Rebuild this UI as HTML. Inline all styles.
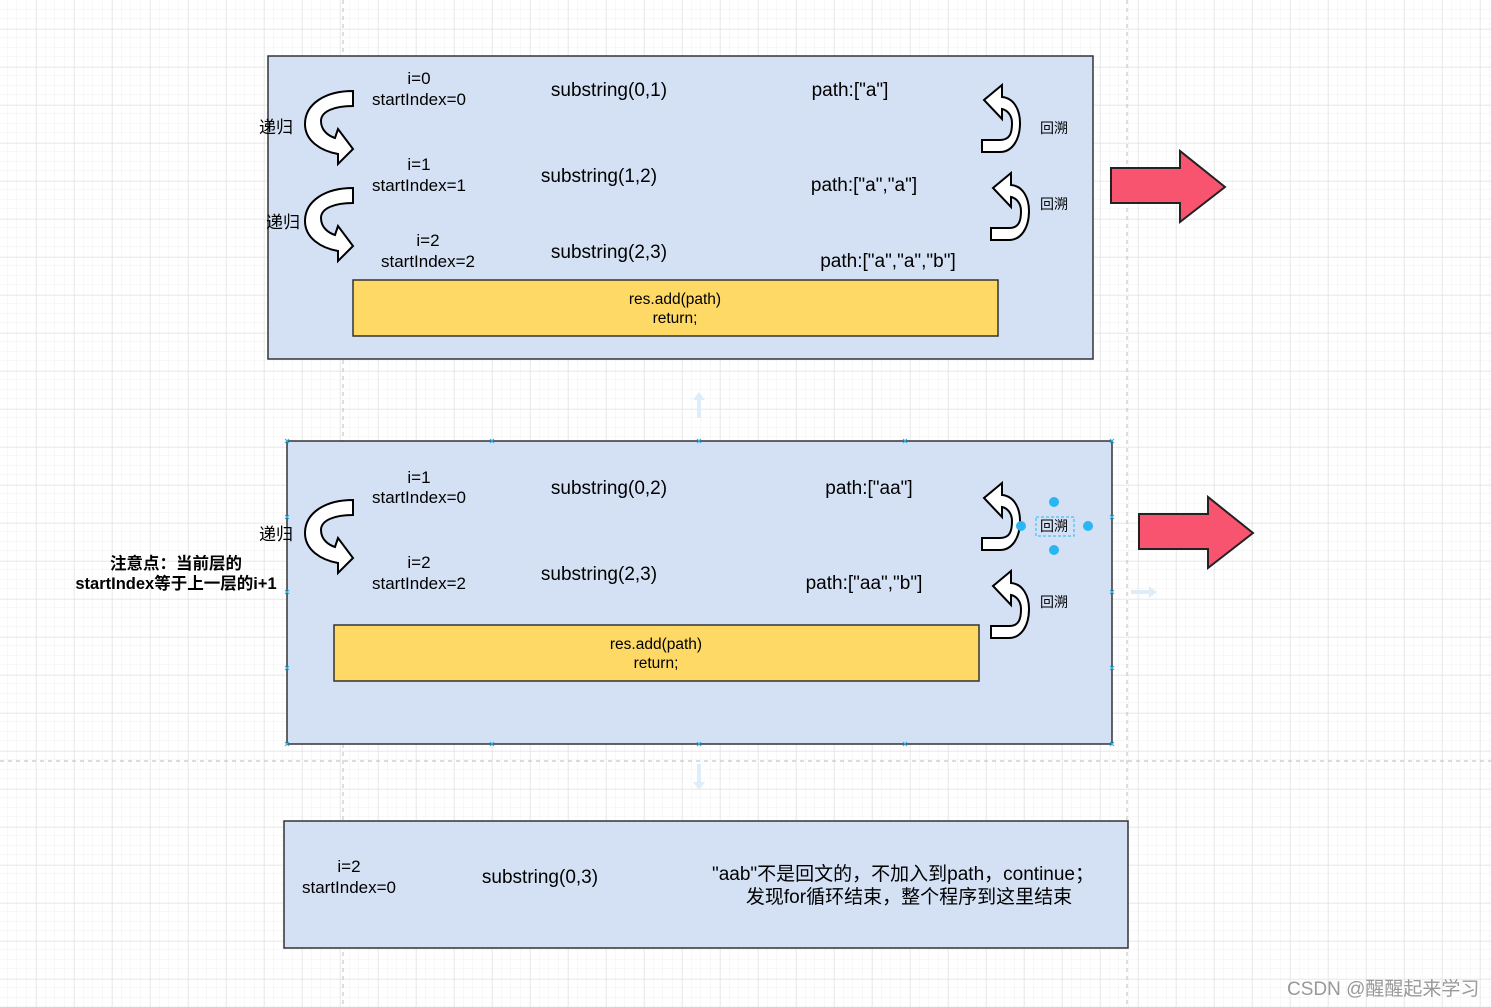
<!DOCTYPE html>
<html><head><meta charset="utf-8"><style>
html,body{margin:0;padding:0;background:#fff;}
svg{display:block;font-family:"Liberation Sans","Noto Sans CJK SC",sans-serif;}
</style></head><body>
<svg width="1491" height="1007" viewBox="0 0 1491 1007" xmlns="http://www.w3.org/2000/svg">
<defs>
<pattern id="minor" width="9.5" height="9.5" patternUnits="userSpaceOnUse" x="7.5" y="0">
<path d="M9.5 0V9.5M0 9.5H9.5" stroke="#f0f0f0" stroke-width="1" fill="none"/>
</pattern>
<pattern id="major" width="38" height="38" patternUnits="userSpaceOnUse" x="36" y="29">
<path d="M0 0V38M0 0H38" stroke="#dedede" stroke-width="1" fill="none"/>
</pattern>
<g id="rec"><path d="M50,2 L50,17 C32,17 18,22 18,32 C18,42 26,47 32,49 L35,40 L50,60 L35,75 L35,65 C18,62 2,52 2,35 C2,15 22,2 50,2 Z" fill="#fff" stroke="#000" stroke-width="2"/></g>
<g id="bt"><path d="M0,55 L18,55 C28,55 30,48 30,38 C30,30 25,25 20,24 L20,34 L2,15 L20,0 L20,12 C32,13 38,25 38,38 C38,55 30,67 18,67 L0,67 Z" fill="#fff" stroke="#000" stroke-width="2"/></g>
<g id="red"><path d="M0,17 L69,17 L69,0 L114,36 L69,71 L69,52 L0,52 Z" fill="#f8536f" stroke="#222" stroke-width="2"/></g>
</defs>
<rect width="1491" height="1007" fill="url(#minor)"/>
<rect width="1491" height="1007" fill="url(#major)"/>
<path d="M343 0V1007M1127 0V1007M0 761H1491" stroke="#c8c8c8" stroke-dasharray="4 4" stroke-width="1.2"/>

<rect x="268" y="56" width="825" height="303" fill="#d4e1f5" stroke="#333" stroke-width="1.5"/>
<rect x="353" y="280" width="645" height="56" fill="#ffd966" stroke="#333" stroke-width="1.5"/>
<g font-size="17" text-anchor="middle" fill="#000">
<text x="419" y="84">i=0</text><text x="419" y="105">startIndex=0</text>
<text x="419" y="170">i=1</text><text x="419" y="191">startIndex=1</text>
<text x="428" y="246">i=2</text><text x="428" y="267">startIndex=2</text>
</g>
<g font-size="19" text-anchor="middle">
<text x="609" y="96">substring(0,1)</text>
<text x="599" y="182">substring(1,2)</text>
<text x="609" y="258">substring(2,3)</text>
<text x="850" y="96">path:["a"]</text>
<text x="864" y="191">path:["a","a"]</text>
<text x="888" y="267">path:["a","a","b"]</text>
</g>
<g font-size="15.5" text-anchor="middle"><text x="675" y="304">res.add(path)</text><text x="675" y="323">return;</text></g>
<use href="#rec" x="303" y="89"/><use href="#rec" x="303" y="186"/>
<text x="259" y="133" font-size="17">递归</text>
<text x="266" y="228" font-size="17">递归</text>
<use href="#bt" x="982" y="85"/><use href="#bt" x="991" y="173"/>
<text x="1040" y="133" font-size="14">回溯</text>
<text x="1040" y="209" font-size="14">回溯</text>
<use href="#red" x="1111" y="151"/>

<path d="M699 392 L693 400 L697 400 L697 418 L701 418 L701 400 L705 400 Z" fill="#ddeefa"/>
<path d="M699 790 L693 782 L697 782 L697 764 L701 764 L701 782 L705 782 Z" fill="#ddeefa"/>
<path d="M1157 592 L1149 586 L1149 590 L1131 590 L1131 594 L1149 594 L1149 598 Z" fill="#ddeefa"/>

<rect x="287" y="441" width="825" height="303" fill="#d4e1f5" stroke="#333" stroke-width="1.5"/>
<rect x="334" y="625" width="645" height="56" fill="#ffd966" stroke="#333" stroke-width="1.5"/>
<g font-size="17" text-anchor="middle">
<text x="419" y="483">i=1</text><text x="419" y="503">startIndex=0</text>
<text x="419" y="568">i=2</text><text x="419" y="589">startIndex=2</text>
</g>
<g font-size="19" text-anchor="middle">
<text x="609" y="494">substring(0,2)</text>
<text x="599" y="580">substring(2,3)</text>
<text x="869" y="494">path:["aa"]</text>
<text x="864" y="589">path:["aa","b"]</text>
</g>
<g font-size="15.5" text-anchor="middle"><text x="656" y="649">res.add(path)</text><text x="656" y="668">return;</text></g>
<use href="#rec" x="303" y="498"/>
<text x="259" y="540" font-size="17">递归</text>
<use href="#bt" x="982" y="483"/><use href="#bt" x="991" y="571"/>
<rect x="1036" y="517" width="38" height="19" fill="none" stroke="#29b6f2" stroke-dasharray="3 2"/>
<text x="1040" y="531" font-size="14">回溯</text>
<text x="1040" y="607" font-size="14">回溯</text>
<g fill="#29b6f2"><circle cx="1054" cy="502" r="5"/><circle cx="1054" cy="550" r="5"/><circle cx="1021" cy="526" r="5"/><circle cx="1088" cy="526" r="5"/></g>
<g stroke="#29b6f2" stroke-width="1.2">
<path d="M285 439l4 4M289 439l-4 4M490 439l4 4M494 439l-4 4M697 439l4 4M701 439l-4 4M903 439l4 4M907 439l-4 4M1110 439l4 4M1114 439l-4 4"/>
<path d="M285 742l4 4M289 742l-4 4M490 742l4 4M494 742l-4 4M697 742l4 4M701 742l-4 4M903 742l4 4M907 742l-4 4M1110 742l4 4M1114 742l-4 4"/>
<path d="M285 515l4 4M289 515l-4 4M285 590l4 4M289 590l-4 4M285 666l4 4M289 666l-4 4M1110 515l4 4M1114 515l-4 4M1110 590l4 4M1114 590l-4 4M1110 666l4 4M1114 666l-4 4"/>
</g>
<use href="#red" x="1139" y="497"/>
<g font-size="16.5" font-weight="bold" text-anchor="middle">
<text x="176" y="569">注意点：当前层的</text>
<text x="176" y="589">startIndex等于上一层的i+1</text>
</g>

<rect x="284" y="821" width="844" height="127" fill="#d4e1f5" stroke="#333" stroke-width="1.5"/>
<g font-size="17" text-anchor="middle"><text x="349" y="872">i=2</text><text x="349" y="893">startIndex=0</text></g>
<text x="540" y="883" font-size="19" text-anchor="middle">substring(0,3)</text>
<g font-size="19" text-anchor="middle"><text x="903" y="880">"aab"不是回文的，不加入到path，continue；</text><text x="909" y="903">发现for循环结束，整个程序到这里结束</text></g>
<text x="1287" y="995" font-size="19" fill="#999">CSDN @醒醒起来学习</text>
</svg>
</body></html>
